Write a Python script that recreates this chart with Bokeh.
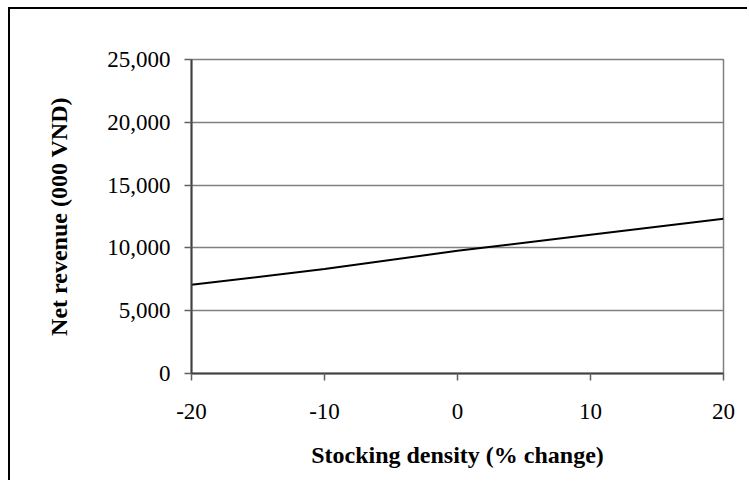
from bokeh.plotting import figure
from bokeh.models import FixedTicker, NumeralTickFormatter, Range1d
from bokeh.embed import file_html
from bokeh.resources import INLINE

# Data
stocking_change = [-20, -10, 0, 10, 20]
net_revenue = [7060, 8320, 9770, 11040, 12320]
x_ticks = [-20, -10, 0, 10, 20]
y_ticks = [0, 5000, 10000, 15000, 20000, 25000]

p = figure(width=739, height=473, output_backend="svg", toolbar_location=None,
           x_range=Range1d(-20, 20), y_range=Range1d(0, 25000),
           min_border_left=181, min_border_right=26, min_border_top=50, min_border_bottom=109)
p.margin = (7, 0, 0, 8)
p.styles = {"border-top": "2px solid black", "border-left": "2px solid black"}

p.line(stocking_change, net_revenue, line_color="black", line_width=2)

FONT = "Liberation Serif"
p.outline_line_color = "#808080"
p.outline_line_width = 1.5
p.background_fill_color = "white"
p.border_fill_color = "white"

p.xgrid.visible = False
p.ygrid.grid_line_color = "#808080"
p.ygrid.grid_line_width = 1.5
p.ygrid.ticker = FixedTicker(ticks=y_ticks)

for ax in (p.xaxis[0], p.yaxis[0]):
    ax.axis_line_color = "#404040"
    ax.axis_line_width = 2
    ax.major_tick_line_color = "#606060"
    ax.major_tick_line_width = 1.5
    ax.major_tick_out = 7
    ax.major_tick_in = 0
    ax.minor_tick_line_color = None
    ax.major_label_text_font = FONT
    ax.major_label_text_font_size = "23px"
    ax.major_label_text_color = "black"
    ax.axis_label_text_font = FONT
    ax.axis_label_text_font_size = "24px"
    ax.axis_label_text_font_style = "bold"
    ax.axis_label_text_color = "black"

p.xaxis.ticker = FixedTicker(ticks=x_ticks)
p.xaxis.formatter = NumeralTickFormatter(format="0")
p.yaxis.ticker = FixedTicker(ticks=y_ticks)
p.yaxis.formatter = NumeralTickFormatter(format="0,0")
p.xaxis.major_label_standoff = 23
p.yaxis.major_label_standoff = 14
p.xaxis.axis_label = "Stocking density (% change)"
p.yaxis.axis_label = "Net revenue (000 VND)"
p.xaxis.axis_label_standoff = 20
p.yaxis.axis_label_standoff = 32

open("out.html", "w").write(file_html(p, INLINE))
